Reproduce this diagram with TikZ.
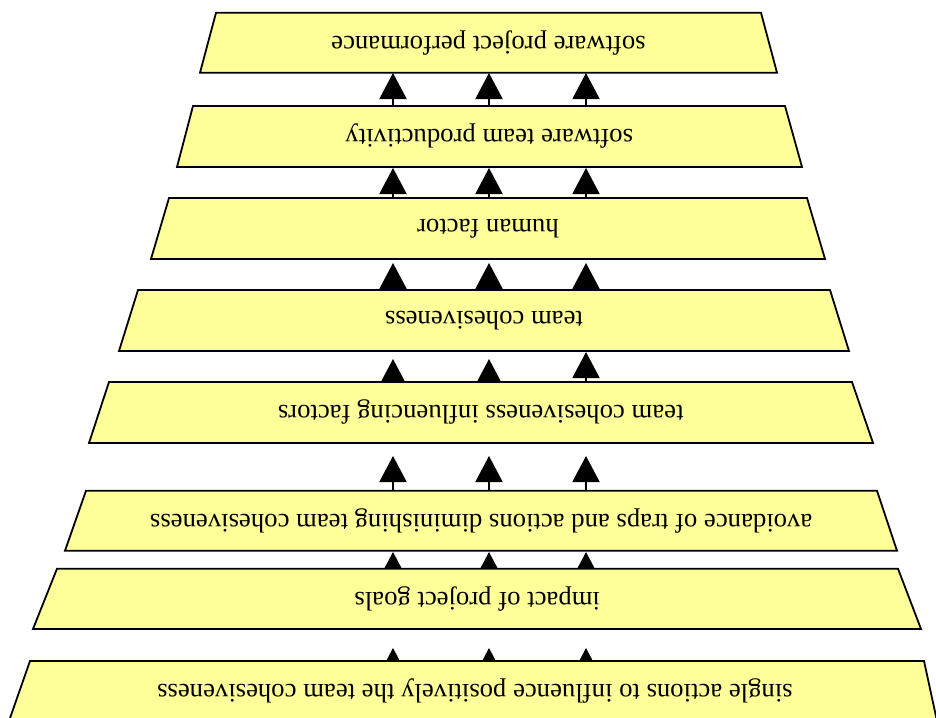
\documentclass[tikz,border=0pt]{standalone}
\usepackage{fontspec}
\setmainfont{Liberation Serif}
\usetikzlibrary{arrows.meta}
\definecolor{boxfill}{HTML}{FFFF99}
\begin{document}
\begin{tikzpicture}[x=1pt,y=-1pt,
  boxshape/.style={draw=black,line width=1.8pt,fill=boxfill,line join=miter},
  boxlabel/.style={rotate=180,font=\fontsize{26.7}{32}\selectfont,inner sep=0pt},
  arr/.style={line width=2pt,-{Triangle[length=26pt,width=27pt]}}]
\useasboundingbox (0,0) rectangle (936,717);
\clip (0,0) rectangle (936,717);
% connectors (drawn first, boxes cover their ends)
\foreach \g/\s/\t in {1/106/73,2/198/168,3/292/263,5/491/456,6/580/552,7/690/648}{
  \foreach \x in {393,489,586}{
    \coordinate (a\g s\x) at (\x,\s);
    \coordinate (a\g t\x) at (\x,\t);
    \draw[arr] (a\g s\x) -- (a\g t\x);
  }
}
\foreach \x/\s/\t in {393/400/359,489/400/359,586/382/352}{
  \coordinate (a4s\x) at (\x,\s);
  \coordinate (a4t\x) at (\x,\t);
  \draw[arr] (a4s\x) -- (a4t\x);
}
% boxes
\draw[boxshape] (216,12.8) -- (761,12.8) -- (777,72.7) -- (200,72.7) -- cycle;
\draw[boxshape] (193,106) -- (785,106) -- (802,167) -- (177,167) -- cycle;
\draw[boxshape] (169,198) -- (807,198) -- (825,259) -- (151,259) -- cycle;
\draw[boxshape] (138,290) -- (830,290) -- (849,351) -- (119,351) -- cycle;
\draw[boxshape] (109,382) -- (852,382) -- (873,443) -- (89,443) -- cycle;
\draw[boxshape] (86,490.7) -- (877,490.7) -- (897,550.7) -- (65,550.7) -- cycle;
\draw[boxshape] (57,568.7) -- (898,568.7) -- (921,629) -- (33,629) -- cycle;
\draw[boxshape] (30,661) -- (924,661) -- (937,721) -- (9,721) -- cycle;
% labels
\node[boxlabel] (l1) at (488.5,42.75) {software project performance};
\node[boxlabel] (l2) at (489.25,136.5) {software team productivity};
\node[boxlabel] (l3) at (488,228.5) {human factor};
\node[boxlabel] (l4) at (484,320.5) {team cohesiveness};
\node[boxlabel] (l5) at (480.75,412.5) {team cohesiveness influencing factors};
\node[boxlabel] (l6) at (481.25,520.7) {avoidance of traps and actions diminishing team cohesiveness};
\node[boxlabel] (l7) at (477.25,598.85) {impact of project goals};
\node[boxlabel] (l8) at (475,691) {single actions to influence positively the team cohesiveness};
\end{tikzpicture}
\end{document}
